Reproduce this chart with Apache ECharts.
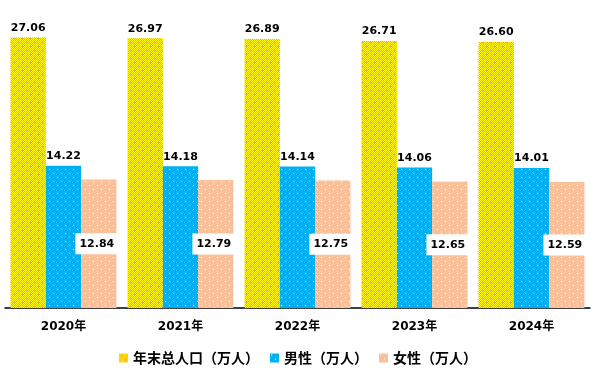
<!DOCTYPE html>
<html><head><meta charset="utf-8">
<script src="https://cdn.jsdelivr.net/npm/echarts@6/dist/echarts.min.js"></script>
<style>html,body{margin:0;padding:0;background:#fff}#c{width:596px;height:379px}</style>
</head><body><div id="c"></div>
<script>
const categories = ['2020年','2021年','2022年','2023年','2024年'];
const seriesNames = ['年末总人口（万人）','男性（万人）','女性（万人）'];
const totalPop = [27.06, 26.97, 26.89, 26.71, 26.60];
const malePop = [14.22, 14.18, 14.14, 14.06, 14.01];
const femalePop = [12.84, 12.79, 12.75, 12.65, 12.59];

function yellowPattern(){
  const c=document.createElement('canvas');c.width=8;c.height=8;const g=c.getContext('2d');
  for(let y=0;y<8;y++)for(let x=0;x<8;x++){g.fillStyle=((x+y)%2===0)?'#FFFF00':'#FFB000';g.fillRect(x,y,1,1);}
  g.fillStyle='#F79A78';
  [[2,1],[1,2],[2,2],[3,2],[2,3],[6,5],[5,6],[6,6],[7,6],[6,7]].forEach(p=>g.fillRect(p[0],p[1],1,1));
  return {image:c,repeat:'repeat'};
}
function dotPattern(bg){
  const c=document.createElement('canvas');c.width=8;c.height=8;const g=c.getContext('2d');
  g.fillStyle=bg;g.fillRect(0,0,8,8);g.fillStyle='#FFFFFF';
  g.fillRect(1,1,1,1);g.fillRect(5,5,1,1);
  return {image:c,repeat:'repeat'};
}
const fam = '"DejaVu Sans","Noto Sans CJK SC",sans-serif';
const chart = echarts.init(document.getElementById('c'));
const lbl = {show:true,fontFamily:fam,fontWeight:'bold',fontSize:11,color:'#000',formatter:p=>p.value.toFixed(2)};
chart.setOption({
  animation:false,
  grid:{left:5,right:6,top:8,bottom:71,containLabel:false},
  legend:{bottom:9,left:'center',itemWidth:9,itemHeight:9,itemGap:11,icon:'rect',
    textStyle:{fontFamily:'"Noto Sans CJK SC",sans-serif',fontWeight:'bold',fontSize:14,color:'#000'},
    data:seriesNames},
  xAxis:{type:'category',data:categories,axisTick:{show:false},
    axisLine:{lineStyle:{color:'#000',width:1.5}},
    axisLabel:{margin:13,fontFamily:fam,fontWeight:'bold',fontSize:12,color:'#000'}},
  yAxis:{type:'value',min:0,max:30,show:false,splitLine:{show:false}},
  series:[
    {name:seriesNames[0],type:'bar',data:totalPop,barGap:'0%',barCategoryGap:'9.5%',
      itemStyle:{color:yellowPattern()},label:Object.assign({},lbl,{position:'top',distance:4})},
    {name:seriesNames[1],type:'bar',data:malePop,barGap:'0%',
      itemStyle:{color:dotPattern('#00B0F0')},label:Object.assign({},lbl,{position:'top',distance:4})},
    {name:seriesNames[2],type:'bar',data:femalePop,barGap:'0%',
      itemStyle:{color:dotPattern('#FAC09A')},label:Object.assign({},lbl,{position:'inside',offset:[-2,0],backgroundColor:'#fff',padding:[5,4]})}
  ]
});
</script></body></html>
